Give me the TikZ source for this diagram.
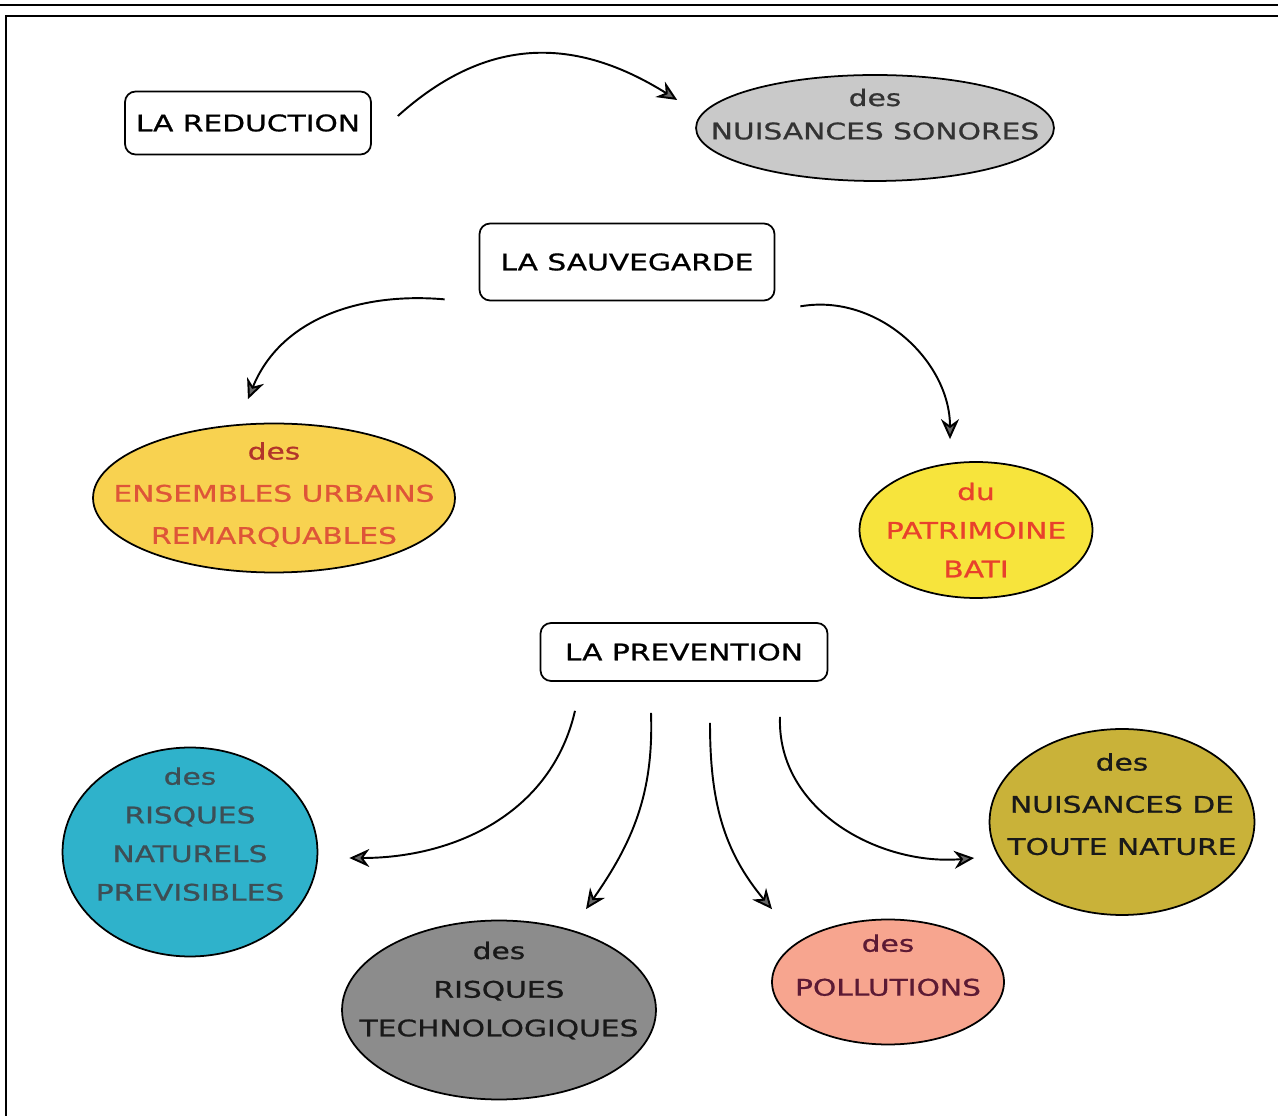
\documentclass[tikz,border=0pt]{standalone}
\usepackage{fontspec}
\newfontfamily\comic{DejaVu Sans}[FakeStretch=1.3,FakeBold=0.8]
\usetikzlibrary{shapes.geometric,arrows.meta}
\definecolor{grisclair}{HTML}{C9C9C9}
\definecolor{grisfonce}{HTML}{8C8C8C}
\definecolor{jauneorange}{HTML}{F8D250}
\definecolor{jaune}{HTML}{F7E43C}
\definecolor{bleu}{HTML}{2FB2CB}
\definecolor{saumon}{HTML}{F7A58F}
\definecolor{olive}{HTML}{C9B239}
\definecolor{orangerouge}{HTML}{DE5538}
\definecolor{rougefonce}{HTML}{B2352B}
\definecolor{rouge}{HTML}{E8412C}
\definecolor{ardoise}{HTML}{3D4E55}
\definecolor{bordeaux}{HTML}{5C1A34}
\tikzset{
	titre/.style={draw, rounded corners=6pt, line width=1pt, inner sep=0pt,
		font=\comic\fontsize{13}{22}\selectfont},
	bulle/.style={ellipse, draw, line width=1pt, inner xsep=-4cm, inner ysep=-3cm, align=center,
		font=\comic\fontsize{13}{22}\selectfont},
	link/.style={line width=1.1pt, -{Stealth[length=4mm,width=3.6mm,inset=1.3mm,fill=gray!80!black]}}
}
\begin{document}
\begin{tikzpicture}[x=0.02cm,y=0.02cm]
	\useasboundingbox (0,0) rectangle (1278,1116);
	%FRAME
	\draw[line width=1.1pt] (0,1111) -- (1278,1111);
	\draw[line width=1.1pt] (1278,1100) -- (6,1100) -- (6,0);
	
	%TITLES
	\node[titre, minimum width=4.92cm, minimum height=1.26cm] (reduction)  at (248,993) {LA REDUCTION};
	\node[titre, minimum width=5.9cm,  minimum height=1.54cm] (sauvegarde) at (627,854) {LA SAUVEGARDE};
	\node[titre, minimum width=5.74cm, minimum height=1.16cm] (prevention) at (684,464) {LA PREVENTION};
	
	%ELLIPSES
	\node[bulle, fill=grisclair, text=black!80, minimum width=7.16cm, minimum height=2.12cm,
		text depth=0.56cm, font=\comic\fontsize{13}{19}\selectfont] (sonores) at (875,988) {des\\NUISANCES SONORES};
	\node[bulle, fill=jauneorange, text=orangerouge, minimum width=7.24cm, minimum height=2.98cm,
		text depth=0.2cm, font=\comic\fontsize{13}{24}\selectfont] (ensembles) at (274,618)
		{{\color{rougefonce}des}\\ENSEMBLES URBAINS\\REMARQUABLES};
	\node[bulle, fill=jaune, text=rouge, minimum width=4.66cm, minimum height=2.72cm] (patrimoine) at (976,586)
		{du\\PATRIMOINE\\BATI};
	\node[bulle, fill=bleu, text=ardoise, minimum width=5.1cm, minimum height=4.18cm,
		text depth=0.72cm] (naturels) at (190,264) {des\\RISQUES\\NATURELS\\PREVISIBLES};
	\node[bulle, fill=grisfonce, text=black!90, minimum width=6.28cm, minimum height=3.58cm,
		text depth=0.84cm] (techno) at (499,106) {des\\RISQUES\\TECHNOLOGIQUES};
	\node[bulle, fill=saumon, text=bordeaux, minimum width=4.64cm, minimum height=2.5cm,
		text depth=0.68cm, font=\comic\fontsize{13}{25}\selectfont] (pollutions) at (888,134) {des\\POLLUTIONS};
	\node[bulle, fill=olive, text=black!90, minimum width=5.3cm, minimum height=3.72cm,
		text depth=0.72cm, font=\comic\fontsize{13}{24}\selectfont] (toute) at (1122,294)
		{des\\NUISANCES DE\\TOUTE NATURE};
	
	%ARROWS
	\draw[link] ([shift={(26,7)}]reduction.east) to[out=42,in=148,looseness=1.1] ([shift={(-18,28)}]sonores.west);
	%from la sauvegarde
	\draw[link] ([shift={(-34,2)}]sauvegarde.south west) to[out=175,in=68] ([shift={(-26,23.5)}]ensembles.north);
	\draw[link] ([shift={(25,-5)}]sauvegarde.south east) to[out=10,in=90] ([shift={(-26,22)}]patrimoine.north);
	%from la prevention
	\draw[link] ([shift={(-109,-29)}]prevention.south) to[out=-103,in=0]   ([shift={(31,-6)}]naturels.east);
	\draw[link] ([shift={(-33,-31)}]prevention.south)  to[out=-88,in=55]   ([shift={(87,10.5)}]techno.north);
	\draw[link] ([shift={(26,-41)}]prevention.south)   to[out=-90,in=130]  ([shift={(-116,9.5)}]pollutions.north);
	\draw[link] ([shift={(96,-35)}]prevention.south)   to[out=-92,in=185]  ([shift={(-14.5,-36)}]toute.west);
\end{tikzpicture}
\end{document}
